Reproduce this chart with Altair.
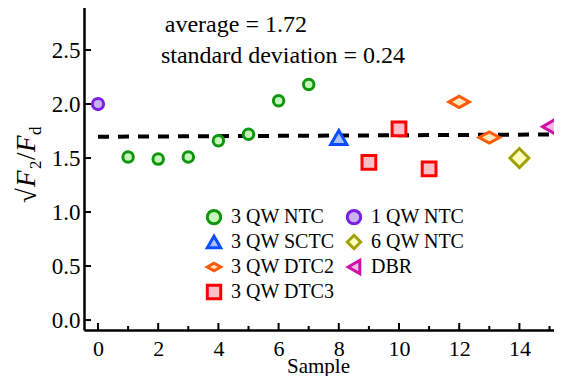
import altair as alt
import pandas as pd

# ---- data ----
samples = list(range(16))
values = [2.00, 1.51, 1.49, 1.51, 1.66, 1.72, 2.03, 2.18,
          1.69, 1.46, 1.77, 1.40, 2.02, 1.69, 1.50, 1.79]
groups = ["1 QW NTC"] + ["3 QW NTC"] * 7 + ["3 QW SCTC"] + ["3 QW DTC3"] * 3 + \
         ["3 QW DTC2", "3 QW DTC2", "6 QW NTC", "DBR"]

# legend order (filled column by column, two columns)
legend_order = ["3 QW NTC", "3 QW SCTC", "3 QW DTC2", "3 QW DTC3",
                "1 QW NTC", "6 QW NTC", "DBR"]
stroke_colors = ["#0f960f", "#0a4cff", "#ff5a0a", "#ff0000",
                 "#7a1ee6", "#a0a000", "#cc10a8"]
fill_colors = ["#c6f5b8", "#a9c2ff", "#ffe9bf", "#ffbfc8",
               "#c8b2ee", "#ffffc0", "#f6b6e6"]
flat_diamond = "M-1,0L0,-0.55L1,0L0,0.55Z"
shapes = ["circle", "triangle-up", flat_diamond, "square",
          "circle", "diamond", "triangle-left"]
sizes = [110, 260, 420, 190, 125, 360, 260]

fit_x = [0, 15.1]
fit_y = [1.697, 1.718]

avg_text = "average = 1.72"
std_text = "standard deviation = 0.24"

x_major = [0, 2, 4, 6, 8, 10, 12, 14]
x_minor = [1, 3, 5, 7, 9, 11, 13, 15]
y_ticks = [0.0, 0.5, 1.0, 1.5, 2.0, 2.5]

W, H = 470, 325
XMIN = -0.465
XMAX = XMIN + W / 30.1
YMAX = 2.917
YMIN = YMAX - H / 108.0
FONT = "Liberation Serif"

df = pd.DataFrame({"sample": samples, "value": values, "group": groups})

xs = alt.Scale(domain=[XMIN, XMAX], nice=False, zero=False)
ys = alt.Scale(domain=[YMIN, YMAX], nice=False, zero=False)

leg = alt.Legend(title=None, orient="none", legendX=120, legendY=202, columns=2,
                 direction="vertical")

xaxis = alt.Axis(values=x_major, ticks=False, grid=False, domainColor="black",
                 domainWidth=2.5, labelFont=FONT, labelFontSize=22,
                 labelColor="black", labelPadding=8, title="Sample",
                 titleFont=FONT, titleFontSize=21, titleFontWeight="normal",
                 titleColor="black", titleY=42, titleBaseline="alphabetic",
                 titleX=234, titleAnchor="start", titleAlign="center")
yaxis = alt.Axis(values=y_ticks, format=".1f", ticks=False, grid=False,
                 domainColor="black", domainWidth=2.5, labelFont=FONT,
                 labelFontSize=23, labelColor="black", labelPadding=4, title=None)

point_layers = []
for g, s in zip(legend_order, sizes):
    point_layers.append(
        alt.Chart(df).transform_filter(alt.datum.group == g)
        .mark_point(strokeWidth=3, opacity=1, fillOpacity=1, size=s).encode(
            x=alt.X("sample:Q", scale=xs, axis=xaxis),
            y=alt.Y("value:Q", scale=ys, axis=yaxis),
            stroke=alt.Stroke("group:N", scale=alt.Scale(domain=legend_order,
                                                         range=stroke_colors), legend=leg),
            fill=alt.Fill("group:N", scale=alt.Scale(domain=legend_order,
                                                     range=fill_colors), legend=leg),
            shape=alt.Shape("group:N", scale=alt.Scale(domain=legend_order,
                                                       range=shapes), legend=leg),
        ))

fit = alt.Chart(pd.DataFrame({"x": fit_x, "y": fit_y})).mark_line(
    color="black", strokeWidth=4, strokeDash=[11, 9]).encode(
    x=alt.X("x:Q", scale=xs, axis=xaxis), y=alt.Y("y:Q", scale=ys, axis=yaxis))

top_border = alt.Chart(pd.DataFrame({"x": [XMIN], "x2": [XMAX], "y": [YMAX]})).mark_rule(
    color="black", strokeWidth=2.5).encode(
    x=alt.X("x:Q", scale=xs, axis=xaxis), x2="x2:Q", y=alt.Y("y:Q", scale=ys, axis=yaxis))

xmaj = alt.Chart(pd.DataFrame({"x": x_major})).mark_rule(color="black", strokeWidth=2).encode(
    x=alt.X("x:Q", scale=xs, axis=xaxis), y=alt.value(H), y2=alt.value(H - 7))
xmin_t = alt.Chart(pd.DataFrame({"x": x_minor})).mark_rule(color="black", strokeWidth=2).encode(
    x=alt.X("x:Q", scale=xs, axis=xaxis), y=alt.value(H), y2=alt.value(H - 4))
ytk = alt.Chart(pd.DataFrame({"y": y_ticks})).mark_rule(color="black", strokeWidth=2).encode(
    y=alt.Y("y:Q", scale=ys, axis=yaxis), x=alt.value(0), x2=alt.value(7))

ann = alt.Chart(pd.DataFrame({"x": [2.22, 2.09], "y": [2.667, 2.380],
                              "t": [avg_text, std_text]})).mark_text(
    font=FONT, fontSize=24, align="left", baseline="alphabetic", color="black").encode(
    x=alt.X("x:Q", scale=xs, axis=xaxis), y=alt.Y("y:Q", scale=ys, axis=yaxis), text="t:N")

# y-axis title built from pieces: sqrt(F_2 / F_d)
def piece(txt, px, py, size, style="normal"):
    return alt.Chart(pd.DataFrame({"t": [txt]})).mark_text(
        font=FONT, fontSize=size, fontStyle=style, angle=270, align="left",
        baseline="alphabetic", color="black").encode(
        text="t:N", x=alt.value(px), y=alt.value(py))

ytitle = (piece("√", -48, 198, 27) + piece("F", -49, 182, 27, "italic") +
          piece("2", -43, 164, 17) + piece("/", -49, 155, 27) +
          piece("F", -49, 147, 27, "italic") + piece("d", -43, 130, 17))

chart = alt.layer(top_border, fit, xmaj, xmin_t, ytk, ann, ytitle, *point_layers).properties(
    width=W, height=H,
    autosize=alt.AutoSizeParams(type="none"),
    padding={"left": 76, "top": -3, "right": 0, "bottom": 46},
).configure_view(stroke=None).configure_legend(
    labelFont=FONT, labelFontSize=20, labelColor="black", symbolSize=180,
    symbolStrokeWidth=3, labelOffset=7, rowPadding=-1, columnPadding=6, padding=0,
)

chart.save("out.html", embed_options={"renderer": "svg", "actions": False})
